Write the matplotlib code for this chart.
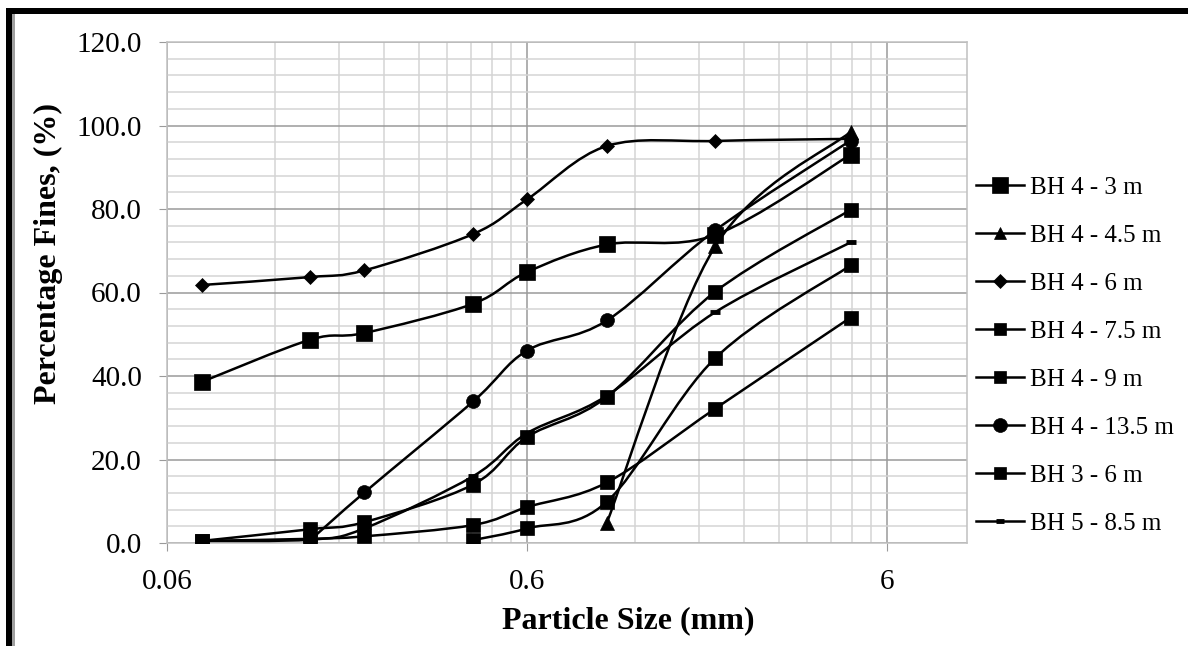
import numpy as np
import matplotlib
matplotlib.use('Agg')
import matplotlib.pyplot as plt
from matplotlib.path import Path
from matplotlib.patches import PathPatch, Rectangle
from matplotlib.lines import Line2D
from matplotlib.ticker import FixedLocator, NullFormatter

plt.rcParams['font.family'] = ['Liberation Serif', 'DejaVu Serif']

# sieve sizes (mm)
sizes = [0.075, 0.15, 0.212, 0.425, 0.6, 1.0, 2.0, 4.75]
nan = np.nan

bh4_3 = [38.6, 48.7, 50.3, 57.3, 64.9, 71.5, 73.8, 93.0]
bh4_45 = [nan, nan, nan, nan, nan, 4.9, 71.1, 98.5]
bh4_6 = [61.8, 63.7, 65.3, 74.0, 82.3, 95.1, 96.3, 96.8]
bh4_75 = [0.5, 3.3, 5.0, 14.0, 25.4, 35.0, 60.2, 79.8]
bh4_9 = [0.5, 1.0, 1.6, 4.3, 8.6, 14.5, 32.2, 54.0]
bh4_135 = [nan, 0.7, 12.1, 33.9, 46.1, 53.3, 74.9, 96.4]
bh3_6 = [nan, nan, nan, 0.7, 3.5, 9.9, 44.3, 66.5]
bh5_85 = [0.5, 0.8, 3.5, 16.0, 26.3, 35.3, 55.3, 72.0]

labels = ['BH 4 - 3 m', 'BH 4 - 4.5 m', 'BH 4 - 6 m', 'BH 4 - 7.5 m',
          'BH 4 - 9 m', 'BH 4 - 13.5 m', 'BH 3 - 6 m', 'BH 5 - 8.5 m']
series = [bh4_3, bh4_45, bh4_6, bh4_75, bh4_9, bh4_135, bh3_6, bh5_85]
markers = ['s', '^', 'D', 's', 's', 'o', 's', '_']
msizes = [11, 9.5, 7.5, 9.5, 9.5, 10, 9.5, 7]
legend_ms = [11.5, 8, 7, 8.5, 8.5, 10, 8.5, 6]


def smooth_path(xs, ys):
    # excel-style smoothed line, built in log-x space
    pts = np.column_stack([np.log10(xs), ys])
    n = len(pts)
    verts = [pts[0]]
    codes = [Path.MOVETO]
    for i in range(n - 1):
        p0 = pts[i - 1] if i > 0 else pts[i]
        p1 = pts[i]
        p2 = pts[i + 1]
        p3 = pts[i + 2] if i + 2 < n else pts[i + 1]
        verts += [p1 + (p2 - p0) / 6, p2 - (p3 - p1) / 6, p2]
        codes += [Path.CURVE4] * 3
    verts = np.array(verts)
    verts[:, 0] = 10 ** verts[:, 0]
    return Path(verts, codes)


fig = plt.figure(figsize=(11.88, 6.46), dpi=100)
ax = fig.add_axes([167 / 1188, 1 - 543 / 646, 800 / 1188, 501 / 646])

ax.set_xscale('log')
ax.set_xlim(0.06, 10)
ax.set_ylim(0, 120)

handles = []
for vals, mk, ms, lms, lab in zip(series, markers, msizes, legend_ms, labels):
    xs = np.array(sizes)
    ys = np.array(vals, dtype=float)
    ok = ~np.isnan(ys)
    xs, ys = xs[ok], ys[ok]
    ax.add_patch(PathPatch(smooth_path(xs, ys), facecolor='none',
                           edgecolor='black', lw=1.8, zorder=3))
    mew = 3.5 if mk == '_' else 0.5
    ax.plot(xs, ys, ls='none', marker=mk, ms=ms, color='black', mew=mew, zorder=4)
    handles.append(Line2D([], [], color='black', lw=1.8, marker=mk, ms=lms,
                          mew=mew, label=lab))

# grid
major_x = [0.06, 0.6, 6]
minor_x = [0.06 * k * 10 ** d for d in range(3) for k in range(2, 10)]
minor_x = [v for v in minor_x if v < 10]
ax.xaxis.set_major_locator(FixedLocator(major_x))
ax.xaxis.set_minor_locator(FixedLocator(minor_x))
ax.set_xticklabels(['0.06', '0.6', '6'])
ax.xaxis.set_minor_formatter(NullFormatter())
ax.yaxis.set_major_locator(FixedLocator(np.arange(0, 121, 20)))
ax.yaxis.set_minor_locator(FixedLocator(np.arange(0, 121, 4)))
ax.set_yticklabels(['%.1f' % v for v in np.arange(0, 121, 20)])

ax.grid(which='major', color='#9a9a9a', lw=1.1, zorder=0)
ax.grid(which='minor', color='#d4d4d4', lw=1.1, zorder=0)
ax.set_axisbelow(True)
for sp in ax.spines.values():
    sp.set_color('#c0c0c0')
    sp.set_linewidth(1.1)

ax.tick_params(which='major', length=6, color='#9a9a9a', labelsize=21)
ax.tick_params(which='minor', length=0)
ax.tick_params(axis='y', pad=12)
ax.tick_params(axis='x', pad=13)

fig.text(48 / 1188, 1 - 253 / 646, 'Percentage Fines, (%)', rotation=90,
         ha='center', va='center', fontsize=23, fontweight='bold')
fig.text(628 / 1188, 1 - 621 / 646, 'Particle Size (mm)',
         ha='center', va='center', fontsize=23, fontweight='bold')

fig.legend(handles=handles, loc='upper left', bbox_to_anchor=(966 / 1188, 1 - 166 / 646),
           frameon=False, fontsize=18, handlelength=1.9, handletextpad=0.25,
           labelspacing=1.02, borderaxespad=0)

# black frame on top and left
fig.add_artist(Rectangle((6 / 1188, 0), 6 / 1188, 1 - 8 / 646, transform=fig.transFigure,
                         color='black', lw=0))
fig.add_artist(Rectangle((12 / 1188, 0), 3 / 1188, 1 - 14 / 646, transform=fig.transFigure,
                         color='#a0a0a0', lw=0))
fig.add_artist(Rectangle((6 / 1188, 1 - 14 / 646), 1 - 6 / 1188, 6 / 646,
                         transform=fig.transFigure, color='black', lw=0))

fig.savefig('out.png', dpi=100)
